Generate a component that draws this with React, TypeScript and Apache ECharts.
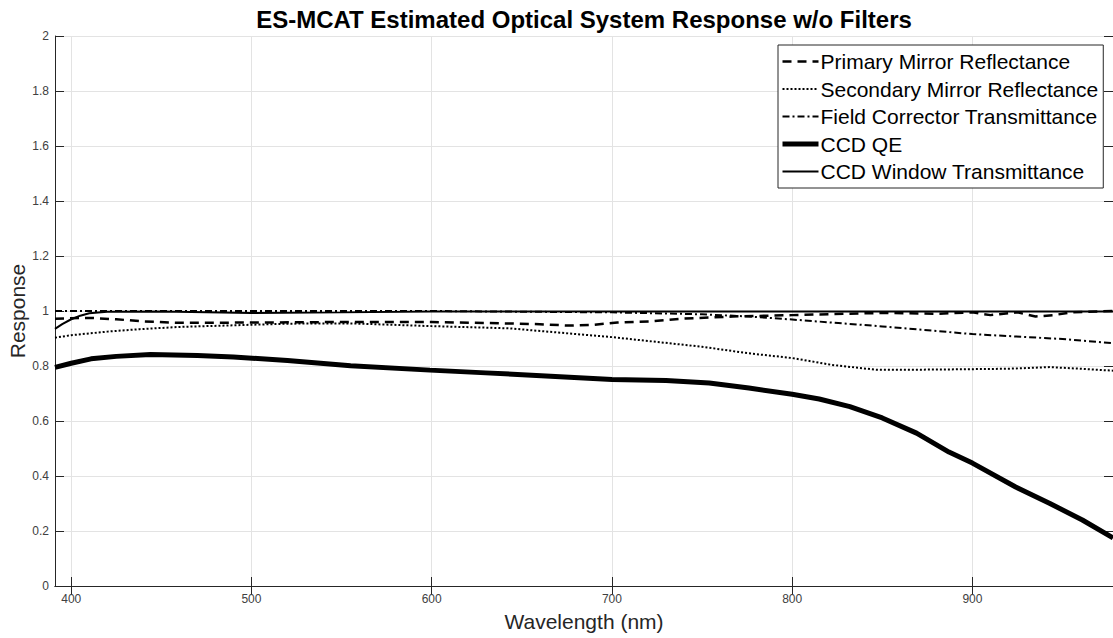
import React, { useEffect, useRef } from "react";
import * as echarts from "echarts";

const chartTitle = "ES-MCAT Estimated Optical System Response w/o Filters";
const xName = "Wavelength (nm)";
const yName = "Response";
const xTicks = [400, 500, 600, 700, 800, 900];
const seriesNames = [
  "Primary Mirror Reflectance",
  "Secondary Mirror Reflectance",
  "Field Corrector Transmittance",
  "CCD QE",
  "CCD Window Transmittance",
];

const primaryNm = [391, 400, 410, 425, 440, 460, 500, 550, 600, 640, 660, 676, 690, 703, 721, 739, 767, 800, 830, 850, 880, 900, 910, 925, 935, 945, 955, 978];
const primaryVal = [0.972, 0.974, 0.975, 0.97, 0.962, 0.957, 0.958, 0.96, 0.96, 0.955, 0.952, 0.947, 0.95, 0.958, 0.962, 0.972, 0.98, 0.985, 0.99, 0.993, 0.99, 0.995, 0.985, 0.995, 0.98, 0.985, 0.995, 1.0];

const secondaryNm = [391, 400, 420, 438, 460, 490, 521, 555, 600, 643, 700, 750, 776, 800, 822, 847, 880, 920, 943, 960, 978];
const secondaryVal = [0.903, 0.912, 0.925, 0.934, 0.942, 0.948, 0.954, 0.955, 0.945, 0.937, 0.905, 0.87, 0.846, 0.829, 0.804, 0.786, 0.787, 0.79, 0.796, 0.79, 0.783];

const fieldNm = [391, 500, 600, 700, 750, 776, 800, 850, 900, 950, 978];
const fieldVal = [1.0, 1.0, 1.0, 0.995, 0.988, 0.98, 0.969, 0.944, 0.916, 0.898, 0.883];

const qeNm = [391, 400, 411, 425, 444, 470, 490, 520, 555, 599, 630, 666, 700, 730, 754, 776, 800, 815, 832, 850, 869, 887, 900, 924, 943, 961, 978];
const qeVal = [0.795, 0.81, 0.826, 0.835, 0.842, 0.838, 0.833, 0.82, 0.801, 0.785, 0.775, 0.763, 0.751, 0.747, 0.738, 0.72, 0.697, 0.68, 0.652, 0.611, 0.556, 0.487, 0.447, 0.36, 0.3, 0.24, 0.175];

const windowNm = [391, 395, 400, 405, 410, 420, 450, 500, 550, 600, 700, 800, 900, 978];
const windowVal = [0.935, 0.952, 0.97, 0.983, 0.992, 0.997, 0.998, 0.993, 0.995, 0.998, 0.998, 0.998, 0.998, 0.998];

const pairs = (xs: number[], ys: number[]) => xs.map((x, i) => [x, ys[i]]);

export default function App() {
  const ref = useRef<HTMLDivElement>(null);
  useEffect(() => {
    if (!ref.current) return;
    const chart = echarts.init(ref.current, undefined, { renderer: "svg" });
    const font = "Liberation Sans, Arial, Helvetica, sans-serif";
    const axisColor = "#262626";
    const gridColor = "#e3e3e3";
    const widths = [2.5, 2, 2, 5, 2];
    const types: any[] = [[9, 6], [2, 2], [7, 3, 2, 3], "solid", "solid"];
    const lineSeries = (i: number, data: number[][], z: number) => ({
      name: seriesNames[i],
      type: "line",
      data,
      showSymbol: false,
      symbol: "none",
      z,
      lineStyle: { color: "#000", width: widths[i], type: types[i] },
      itemStyle: { color: "#000" },
    });
    chart.setOption({
      animation: false,
      backgroundColor: "#fff",
      textStyle: { fontFamily: font },
      title: {
        text: chartTitle,
        left: 579,
        textAlign: "center",
        top: 2,
        textStyle: { fontFamily: font, fontSize: 24, fontWeight: "bold", color: "#000" },
      },
      grid: { left: 55, right: 0, top: 36, bottom: 52, containLabel: false, outerBoundsMode: "none" },
      legend: {
        orient: "vertical",
        left: 778,
        top: 45,
        padding: [6, 5, 6, 2],
        itemGap: 6.5,
        itemWidth: 36,
        itemHeight: 14,
        backgroundColor: "#fff",
        borderColor: axisColor,
        borderWidth: 1,
        borderRadius: 0,
        selectedMode: false,
        itemStyle: { opacity: 0 },
        data: seriesNames.map((n, i) => ({
          name: n,
          itemStyle: { opacity: 0, color: "#000" },
          lineStyle: { width: widths[i], type: types[i], color: "#000" },
        })),
        textStyle: { fontFamily: font, fontSize: 21, color: "#000", padding: [0, 0, 0, -3] },
      },
      xAxis: [
        {
          type: "value",
          min: 391,
          max: 978,
          name: xName,
          nameLocation: "middle",
          nameGap: 25,
          nameMoveOverlap: false,
          nameTextStyle: { fontFamily: font, fontSize: 21, color: "#262626" },
          axisLine: { show: true, lineStyle: { color: axisColor, width: 1 } },
          axisTick: { show: true, inside: true, length: 9, customValues: xTicks, lineStyle: { color: axisColor } },
          axisLabel: { show: true, customValues: xTicks, margin: 7, fontSize: 12, color: "#404040", fontFamily: font },
          splitLine: { show: true, customValues: xTicks, lineStyle: { color: gridColor, width: 1 } },
        },
        {
          type: "value",
          position: "top",
          min: 391,
          max: 978,
          axisLine: { show: true, lineStyle: { color: axisColor, width: 1 } },
          axisTick: { show: true, inside: true, length: 9, customValues: xTicks, lineStyle: { color: axisColor } },
          axisLabel: { show: false },
          splitLine: { show: false },
        },
      ],
      yAxis: [
        {
          type: "value",
          min: 0,
          max: 2,
          interval: 0.2,
          name: yName,
          nameLocation: "middle",
          nameGap: 27,
          nameMoveOverlap: false,
          nameTextStyle: { fontFamily: font, fontSize: 21, color: "#262626" },
          axisLine: { show: true, lineStyle: { color: axisColor, width: 1 } },
          axisTick: { show: true, inside: true, length: 9, lineStyle: { color: axisColor } },
          axisLabel: { show: true, margin: 6, fontSize: 12, color: "#404040", fontFamily: font },
          splitLine: { show: true, lineStyle: { color: gridColor, width: 1 } },
        },
        {
          type: "value",
          position: "right",
          min: 0,
          max: 2,
          interval: 0.2,
          axisLine: { show: true, lineStyle: { color: axisColor, width: 1 } },
          axisTick: { show: true, inside: true, length: 9, lineStyle: { color: axisColor } },
          axisLabel: { show: false },
          splitLine: { show: false },
        },
      ],
      series: [
        lineSeries(0, pairs(primaryNm, primaryVal), 3),
        lineSeries(1, pairs(secondaryNm, secondaryVal), 3),
        lineSeries(2, pairs(fieldNm, fieldVal), 3),
        lineSeries(3, pairs(qeNm, qeVal), 4),
        lineSeries(4, pairs(windowNm, windowVal), 5),
      ],
    });
    return () => chart.dispose();
  }, []);
  return (
    <div
      ref={ref}
      style={{ position: "fixed", left: 0, top: 0, width: 1113, height: 638, background: "#fff" }}
    />
  );
}
